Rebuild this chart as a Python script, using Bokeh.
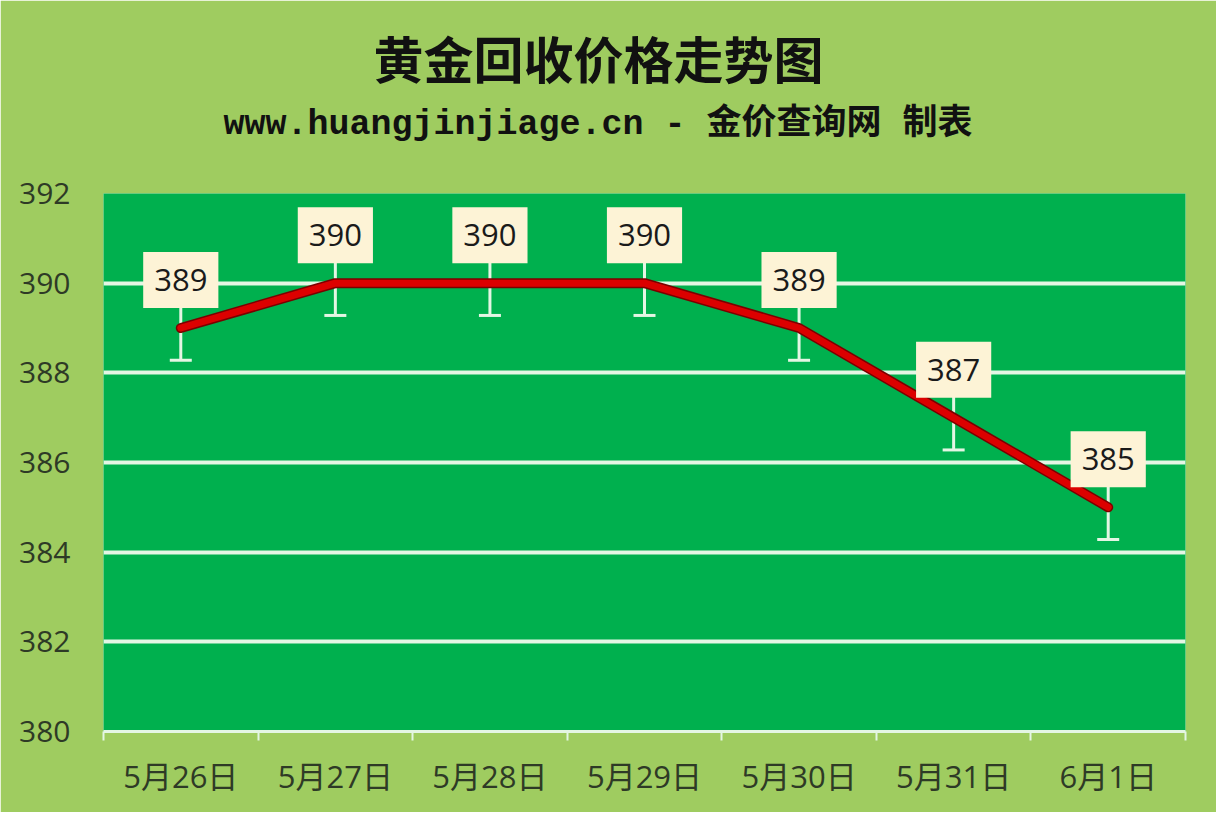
from bokeh.plotting import figure
from bokeh.models import (Title, FixedTicker, ColumnDataSource, Whisker, TeeHead, Range1d)
from bokeh.core.properties import value
from bokeh.embed import file_html
from bokeh.resources import INLINE

# ---- data ----
dates = ["5月26日", "5月27日", "5月28日", "5月29日", "5月30日", "5月31日", "6月1日"]
prices = [389, 390, 390, 390, 389, 387, 385]
err_bar = [0.72, 0.72, 0.72, 0.72, 0.72, 0.72, 0.72]
y_ticks = [380, 382, 384, 386, 388, 390, 392]
grid_ticks = [380, 382, 384, 386, 388, 390]
title_text = "黄金回收价格走势图"
subtitle_text = "www.huangjinjiage.cn - 金价查询网 制表"

# ---- derived ----
xs = [i + 0.5 for i in range(len(dates))]
src = ColumnDataSource(dict(
    x=xs, y=prices,
    lower=[p - e for p, e in zip(prices, err_bar)],
    upper=[p + e for p, e in zip(prices, err_bar)],
    label=[str(p) for p in prices],
))

OUTER = "#9fcc60"
INNER = "#00b04e"
WHITE = "#e4f6e4"
LABEL_COLOR = "#2e3a26"

p = figure(width=1216, height=812, output_backend="svg", toolbar_location=None,
           x_range=Range1d(0, len(dates)), y_range=Range1d(380, 392),
           background_fill_color=INNER, border_fill_color=OUTER,
           min_border_left=103, min_border_right=31, min_border_top=193,
           min_border_bottom=81, outline_line_color=None)

# titles: spacer nearest the frame, then subtitle, then main title
p.add_layout(Title(text=" ", text_font_size="1px", standoff=46), "above")
p.add_layout(Title(text=subtitle_text, align="left", offset=120, text_font_size="35px",
                   text_font="Liberation Mono, Noto Sans CJK SC", text_font_style="bold",
                   text_color="#111111", standoff=0), "above")
p.add_layout(Title(text=title_text, align="left", offset=270, text_font_size="50px",
                   text_font="Noto Sans CJK SC", text_font_style="bold",
                   text_color="#111111", standoff=20), "above")

# axes
p.xaxis.ticker = FixedTicker(ticks=xs, minor_ticks=list(range(len(dates) + 1)))
p.xaxis.major_label_overrides = {x: d for x, d in zip(xs, dates)}
p.xaxis.axis_line_color = WHITE
p.xaxis.axis_line_width = 3
p.xaxis.major_tick_in = 0
p.xaxis.major_tick_out = 0
p.xaxis.minor_tick_in = 0
p.xaxis.minor_tick_out = 9
p.xaxis.minor_tick_line_color = WHITE
p.xaxis.minor_tick_line_width = 2
p.xaxis.major_label_text_font = "Open Sans, Noto Sans CJK SC"
p.xaxis.major_label_text_font_size = "31px"
p.xaxis.major_label_text_color = LABEL_COLOR
p.xaxis.major_label_standoff = 14

p.yaxis.ticker = FixedTicker(ticks=y_ticks)
p.yaxis.axis_line_color = None
p.yaxis.major_tick_line_color = None
p.yaxis.minor_tick_line_color = None
p.yaxis.major_label_text_font = "Open Sans"
p.yaxis.major_label_text_font_size = "30px"
p.yaxis.major_label_text_color = LABEL_COLOR
p.yaxis.major_label_standoff = 27

p.xgrid.visible = False
p.ygrid.ticker = FixedTicker(ticks=grid_ticks)
p.ygrid.grid_line_color = WHITE
p.ygrid.grid_line_width = 4

# error bars
w = Whisker(base="x", lower="lower", upper="upper", source=src,
            line_color=WHITE, line_width=3, level="underlay",
            lower_head=TeeHead(size=22, line_color=WHITE, line_width=3),
            upper_head=None)
p.add_layout(w)

# line
p.line("x", "y", source=src, line_width=10, line_color="#7a0000", line_join="round", line_cap="round")
p.line("x", "y", source=src, line_width=7, line_color="#dc0000", line_join="round", line_cap="round")

# value labels
p.text("x", "y", text="label", source=src, y_offset=-48,
       text_align="center", text_baseline="middle",
       text_font=value("Open Sans"), text_font_size="31px", text_color="#1a1a1a",
       background_fill_color="#fdf3d6", padding=dict(x=11, y=17))

open("out.html", "w").write(file_html(p, INLINE))
